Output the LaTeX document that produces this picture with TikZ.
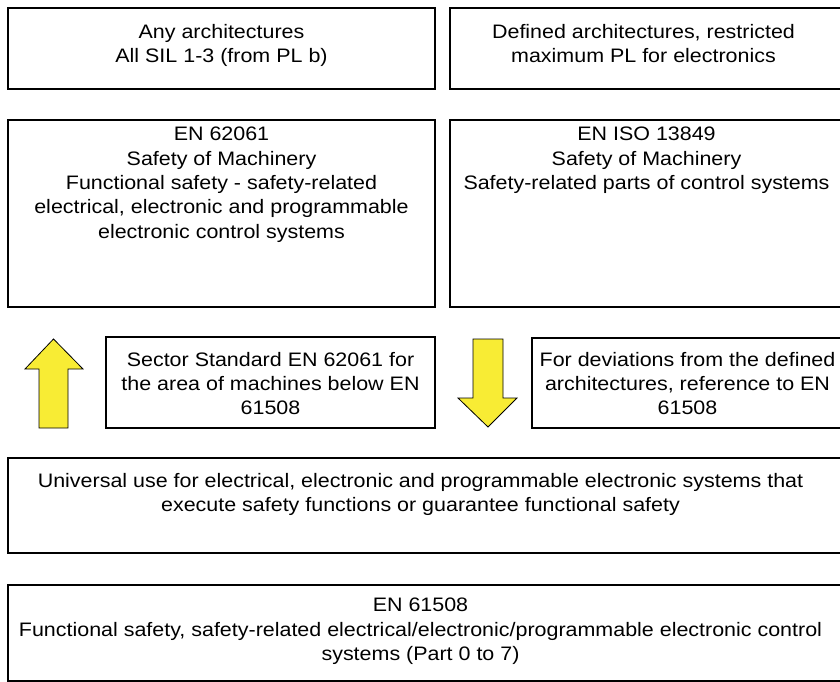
\documentclass[tikz,border=0pt]{standalone}
\usepackage{fontspec}
\setmainfont{Liberation Sans}[FakeStretch=1.10]
\usepackage{xcolor}
\usetikzlibrary{positioning}
\definecolor{arrowyellow}{RGB}{248,236,52}

\begin{document}
\begin{tikzpicture}[
    x=1pt, y=-1pt,
    box/.style={draw, line width=2pt, inner sep=0pt, outer sep=0pt},
    txt/.style={align=center, inner sep=0pt, font=\fontsize{19.5}{24.3}\selectfont},
    blockarrow/.style={draw=black, line width=0.8pt, fill=arrowyellow, line join=miter}
]
\useasboundingbox (0,0) rectangle (840,682);

\node[box, minimum width=427pt, minimum height=81pt] (anyarch) at (221.5,48.5) {};
\node[box, minimum width=393pt, minimum height=81pt] (defarch) at (646.5,48.5) {};
\node[txt, below=16pt of anyarch.north] (anyarch-text) {Any architectures\\All SIL 1-3 (from PL b)};
\node[txt, below=16pt of defarch.north, xshift=-3pt] (defarch-text) {Defined architectures, restricted\\maximum PL for electronics};

\node[box, minimum width=427pt, minimum height=187pt] (en62061) at (221.5,213.5) {};
\node[box, minimum width=393pt, minimum height=187pt] (iso13849) at (646.5,213.5) {};
\node[txt, below=7pt of en62061.north] (en62061-text) {EN 62061\\Safety of Machinery\\Functional safety - safety-related\\electrical, electronic and programmable\\electronic control systems};
\node[txt, below=7pt of iso13849.north] (iso13849-text) {EN ISO 13849\\Safety of Machinery\\Safety-related parts of control systems};

\node[box, minimum width=329pt, minimum height=91pt] (sector) at (270.5,382.5) {};
\node[box, minimum width=311pt, minimum height=90pt] (deviate) at (687.5,383) {};
\node[txt, below=15pt of sector.north] (sector-text) {Sector Standard EN 62061 for\\the area of machines below EN\\61508};
\node[txt, below=14pt of deviate.north] (deviate-text) {For deviations from the defined\\architectures, reference to EN\\61508};

\draw[blockarrow] (39,428) -- (39,369) -- (25,369) -- (53.5,339) -- (83,369) -- (68,369) -- (68,428) -- cycle;
\draw[blockarrow] (473,339) -- (503,339) -- (503,398) -- (517,398) -- (488,427) -- (458,398) -- (473,398) -- cycle;

\node[box, minimum width=835pt, minimum height=95pt] (universal) at (425.5,505.5) {};
\node[txt, below=15pt of universal.north, xshift=-5pt] (universal-text) {Universal use for electrical, electronic and programmable electronic systems that\\execute safety functions or guarantee functional safety};

\node[box, minimum width=835pt, minimum height=96pt] (en61508) at (425.5,633) {};
\node[txt, below=13pt of en61508.north, xshift=-5pt] (en61508-text) {EN 61508\\Functional safety, safety-related electrical/electronic/programmable electronic control\\systems (Part 0 to 7)};
\end{tikzpicture}
\end{document}
